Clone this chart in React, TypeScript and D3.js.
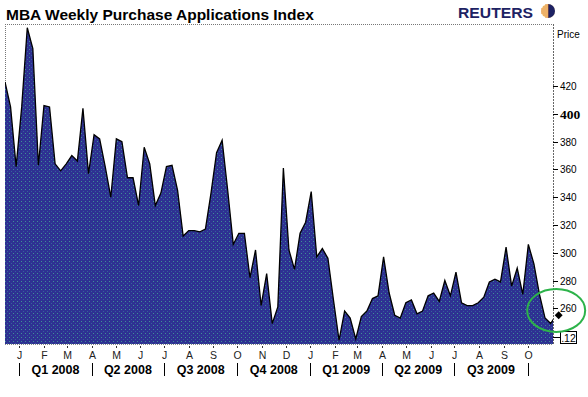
import * as d3 from "d3";

// weekly MBA purchase index, first week ending Dec 14 2007
const startDate = new Date(2007, 11, 14);
const endDate = new Date(2009, 10, 2);
const purchaseIndex = [
  423, 405, 362, 405, 462, 447, 363, 406, 405, 364, 359, 364, 370, 366, 404, 357,
  385, 382, 362, 340, 382, 380, 354, 354, 334, 376, 364, 334, 343, 362, 363, 345,
  312, 316, 316, 315, 317, 343, 372, 381, 345, 306, 314, 314, 282, 302, 262, 285,
  249, 261, 361, 302, 288, 314, 322, 344, 297, 303, 296, 266, 237, 258, 253, 238,
  254, 258, 267, 269, 297, 271, 255, 253, 264, 266, 256, 258, 269, 271, 265, 280,
  269, 286, 264, 262, 262, 264, 268, 279, 281, 279, 304, 276, 289, 270, 306, 292,
  270, 253, 249, 255,
];
const monthLabels = ["J", "F", "M", "A", "M", "J", "J", "A", "S", "O", "N", "D",
  "J", "F", "M", "A", "M", "J", "J", "A", "S", "O"];
const quarterLabels = ["Q1 2008", "Q2 2008", "Q3 2008", "Q4 2008", "Q1 2009", "Q2 2009", "Q3 2009"];
const priceTicks = [260, 280, 300, 320, 340, 360, 380, 400, 420];
const highlightTick = 400;
const yMin = 234.3;
const yMax = 464.7;

const W = 588;
const H = 397;
const plot = { left: 5, right: 553, top: 24, bottom: 344 };
const font = "'Liberation Sans', Arial, sans-serif";

export default function App() {
  const dates = purchaseIndex.map((_, i) => d3.timeDay.offset(startDate, 7 * i));
  const x = d3.scaleTime().domain([startDate, endDate]).range([plot.left, plot.right]);
  const y = d3.scaleLinear().domain([yMin, yMax]).range([plot.bottom, plot.top]);

  const area = d3
    .area<number>()
    .x((_, i) => x(dates[i]))
    .y0(plot.bottom)
    .y1((d) => y(d));
  const line = d3
    .line<number>()
    .x((_, i) => x(dates[i]))
    .y((d) => y(d));

  const months = d3.timeMonth.range(new Date(2008, 0, 1), new Date(2009, 9, 2));
  const quarters = d3.timeMonth.every(3)!.range(new Date(2008, 0, 1), new Date(2009, 9, 2));

  const last = purchaseIndex[purchaseIndex.length - 1];
  const lastX = x(dates[dates.length - 1]);
  const lastY = y(last);

  return (
    <svg width={W} height={H} style={{ position: "absolute", left: 0, top: 0, background: "#fff" }}>
      <defs>
        <pattern id="dots" width={4} height={4} patternUnits="userSpaceOnUse">
          <rect width={4} height={4} fill="#2e3192" />
          <rect x={1} y={1} width={1} height={1} fill="#3f8f96" />
          <rect x={3} y={3} width={1} height={1} fill="#35609c" />
        </pattern>
        <clipPath id="plotClip">
          <rect x={plot.left} y={plot.top} width={plot.right - plot.left} height={plot.bottom - plot.top} />
        </clipPath>
      </defs>

      {/* title and logo */}
      <text x={6} y={20} fontFamily={font} fontSize={15.5} fontWeight="bold" fill="#000">
        MBA Weekly Purchase Applications Index
      </text>
      <text x={458} y={18} fontFamily={font} fontSize={14} fontWeight="bold" fill="#1d2263"
        textLength={75} lengthAdjust="spacingAndGlyphs">
        REUTERS
      </text>
      <g transform="translate(548,11)">
        <circle r={7} fill="#f6d48a" />
        <path d="M0,-7 A7,7 0 0,1 0,7 Z" fill="#1d2263" />
        {d3.range(-6, 7, 2).map((dy) =>
          d3.range(-6, 1, 2).map((dx) =>
            dx * dx + dy * dy <= 40 ? (
              <rect key={`${dx}_${dy}`} x={dx - 0.6} y={dy - 0.6} width={1.2} height={1.2} fill="#e0762a" />
            ) : null,
          ),
        )}
      </g>

      {/* plot frame */}
      <line x1={plot.left} y1={plot.top + 0.5} x2={plot.right} y2={plot.top + 0.5} stroke="#777" strokeDasharray="1,1" />
      <line x1={plot.left + 0.5} y1={plot.top} x2={plot.left + 0.5} y2={plot.bottom} stroke="#777" strokeDasharray="1,1" />

      {/* area */}
      <g clipPath="url(#plotClip)">
        <path d={area(purchaseIndex) ?? ""} fill="url(#dots)" />
        <path d={line(purchaseIndex) ?? ""} fill="none" stroke="#000" strokeWidth={1.3} />
      </g>
      <line x1={plot.left} y1={plot.bottom + 0.5} x2={plot.right} y2={plot.bottom + 0.5} stroke="#888" strokeDasharray="1,1" />

      {/* right axis */}
      <line x1={plot.right + 0.5} y1={plot.top} x2={plot.right + 0.5} y2={plot.bottom} stroke="#666" strokeDasharray="2,1" />
      <text x={557} y={38} fontFamily={font} fontSize={10} fill="#000">Price</text>
      {priceTicks.map((v) => (
        <g key={v} transform={`translate(0,${Math.round(y(v)) + 0.5})`}>
          <line x1={plot.right} x2={plot.right + 5} stroke="#000" />
          {v === highlightTick ? (
            <text x={560} dy="0.36em" fontFamily="'Liberation Serif', 'Times New Roman', serif"
              fontSize={13.5} fontWeight="bold" fill="#000">
              {v}
            </text>
          ) : (
            <text x={560} dy="0.36em" fontFamily={font} fontSize={10} fill="#000">
              {v}
            </text>
          )}
        </g>
      ))}

      {/* last value marker */}
      <line x1={plot.right} x2={560} y1={337.5} y2={337.5} stroke="#000" />
      <rect x={560.5} y={331.5} width={16} height={12} fill="#fff" stroke="#000" />
      <text x={568.5} y={341.5} textAnchor="middle" fontFamily={font} fontSize={10.5} fill="#000">.12</text>
      <path
        d={d3.symbol().type(d3.symbolDiamond2).size(40)() ?? ""}
        transform={`translate(${lastX + 2.5},${lastY})`}
        fill="#000"
      />
      <ellipse cx={lastX} cy={y(258.5)} rx={29} ry={21.5} fill="none" stroke="#2db34a" strokeWidth={2} />

      {/* month axis */}
      {months.map((m, i) => (
        <g key={m.getTime()} transform={`translate(${Math.round(x(m)) + 0.5},0)`}>
          <line y1={346} y2={348} stroke="#333" />
          <text y={359} textAnchor="middle" fontFamily={font} fontSize={10.5} fill="#222">
            {monthLabels[i]}
          </text>
        </g>
      ))}
      {quarters.map((q) => (
        <line key={q.getTime()} x1={Math.round(x(q)) + 0.5} x2={Math.round(x(q)) + 0.5} y1={363} y2={376} stroke="#000" />
      ))}
      {quarterLabels.map((label, i) => (
        <text key={label} x={(x(quarters[i]) + x(quarters[i + 1])) / 2} y={374} textAnchor="middle"
          fontFamily={font} fontSize={12.5} fontWeight="bold" fill="#000">
          {label}
        </text>
      ))}
    </svg>
  );
}
